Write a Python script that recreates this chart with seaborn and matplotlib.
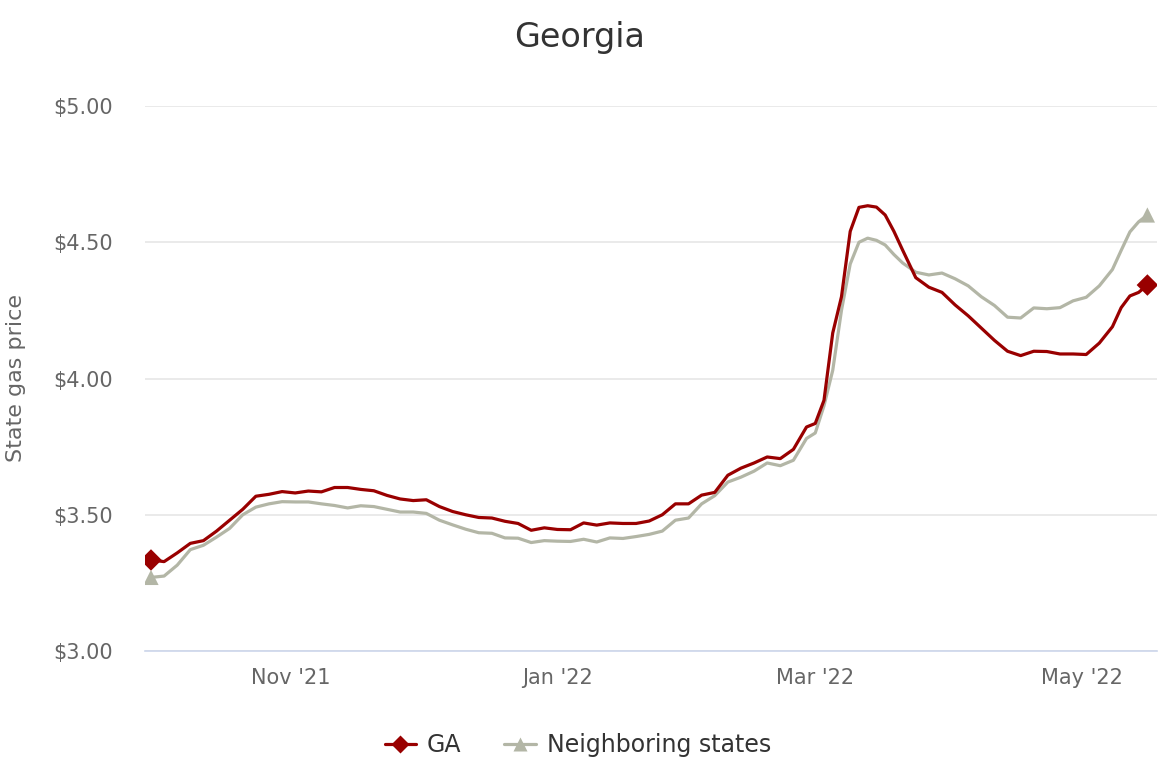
import matplotlib
matplotlib.use("Agg")
import matplotlib.pyplot as plt
import matplotlib.dates as mdates
from matplotlib.lines import Line2D
import seaborn as sns
import pandas as pd

dates = [
    "2021-09-30", "2021-10-03", "2021-10-06", "2021-10-09", "2021-10-12", "2021-10-15",
    "2021-10-18", "2021-10-21", "2021-10-24", "2021-10-27", "2021-10-30", "2021-11-02",
    "2021-11-05", "2021-11-08", "2021-11-11", "2021-11-14", "2021-11-17", "2021-11-20",
    "2021-11-23", "2021-11-26", "2021-11-29", "2021-12-02", "2021-12-05", "2021-12-08",
    "2021-12-11", "2021-12-14", "2021-12-17", "2021-12-20", "2021-12-23", "2021-12-26",
    "2021-12-29", "2022-01-01", "2022-01-04", "2022-01-07", "2022-01-10", "2022-01-13",
    "2022-01-16", "2022-01-19", "2022-01-22", "2022-01-25", "2022-01-28", "2022-01-31",
    "2022-02-03", "2022-02-06", "2022-02-09", "2022-02-12", "2022-02-15", "2022-02-18",
    "2022-02-21", "2022-02-24", "2022-02-27", "2022-03-01", "2022-03-03", "2022-03-05",
    "2022-03-07", "2022-03-09", "2022-03-11", "2022-03-13", "2022-03-15", "2022-03-17",
    "2022-03-19", "2022-03-21", "2022-03-24", "2022-03-27", "2022-03-30", "2022-04-02",
    "2022-04-05", "2022-04-08", "2022-04-11", "2022-04-14", "2022-04-17", "2022-04-20",
    "2022-04-23", "2022-04-26", "2022-04-29", "2022-05-02", "2022-05-05", "2022-05-08",
    "2022-05-10", "2022-05-12", "2022-05-14", "2022-05-16",
]

ga = [
    3.334, 3.328, 3.360, 3.395, 3.405, 3.440,
    3.480, 3.520, 3.568, 3.575, 3.585, 3.580,
    3.587, 3.584, 3.600, 3.600, 3.593, 3.588,
    3.571, 3.558, 3.552, 3.555, 3.530, 3.512,
    3.500, 3.490, 3.488, 3.476, 3.468, 3.443,
    3.452, 3.446, 3.445, 3.470, 3.462, 3.470,
    3.468, 3.468, 3.477, 3.500, 3.540, 3.540,
    3.572, 3.582, 3.645, 3.671, 3.690, 3.712,
    3.706, 3.740, 3.822, 3.835, 3.920, 4.167,
    4.300, 4.540, 4.628, 4.634, 4.629, 4.600,
    4.540, 4.471, 4.370, 4.335, 4.316, 4.270,
    4.230, 4.185, 4.140, 4.100, 4.084, 4.100,
    4.099, 4.090, 4.090, 4.088, 4.130, 4.190,
    4.260, 4.303, 4.316, 4.343,
]

neighbors = [
    3.270, 3.275, 3.315, 3.372, 3.388, 3.418,
    3.450, 3.500, 3.528, 3.540, 3.548, 3.547,
    3.547, 3.540, 3.534, 3.525, 3.533, 3.530,
    3.520, 3.510, 3.510, 3.505, 3.480, 3.463,
    3.447, 3.434, 3.432, 3.415, 3.414, 3.398,
    3.405, 3.403, 3.402, 3.410, 3.400, 3.415,
    3.413, 3.420, 3.428, 3.440, 3.480, 3.488,
    3.540, 3.570, 3.620, 3.638, 3.660, 3.690,
    3.680, 3.700, 3.780, 3.800, 3.900, 4.030,
    4.250, 4.420, 4.500, 4.515, 4.507, 4.490,
    4.455, 4.424, 4.390, 4.380, 4.387, 4.366,
    4.340, 4.300, 4.268, 4.225, 4.222, 4.259,
    4.256, 4.260, 4.285, 4.298, 4.340, 4.400,
    4.470, 4.538, 4.575, 4.600,
]

series_names = ["GA", "Neighboring states"]
y_ticks = [3.0, 3.5, 4.0, 4.5, 5.0]
x_tick_months = [11, 1, 3, 5]

RED = "#990000"
GRAY = "#b3b6a6"

df = pd.DataFrame({
    "date": pd.to_datetime(dates * 2),
    "price": ga + neighbors,
    "series": [series_names[0]] * len(ga) + [series_names[1]] * len(neighbors),
})

sns.set_theme(style="white")
plt.rcParams["font.family"] = ["DejaVu Sans"]

fig = plt.figure(figsize=(11.6, 7.73), dpi=100)
ax = fig.add_axes([145 / 1160, 1 - 651 / 773, (1157 - 145) / 1160, (651 - 106) / 773])

sns.lineplot(data=df, x="date", y="price", hue="series",
             palette={series_names[0]: RED, series_names[1]: GRAY},
             hue_order=[series_names[1], series_names[0]],
             linewidth=2.3, legend=False, ax=ax, zorder=3,
             solid_joinstyle="round", solid_capstyle="round")

ends = df.groupby("series").apply(lambda g: g.iloc[[0, -1]]).reset_index(drop=True)
sns.scatterplot(data=ends, x="date", y="price", hue="series", style="series",
                palette={series_names[0]: RED, series_names[1]: GRAY},
                markers={series_names[0]: "D", series_names[1]: "^"},
                s=120, edgecolor="none", legend=False, ax=ax, zorder=4)

start = pd.Timestamp("2021-09-30")
ax.set_xlim(start - pd.Timedelta(days=1.37), start + pd.Timedelta(days=230.2))
ax.set_ylim(3.0, 5.0)
ax.set_yticks(y_ticks)
ax.set_yticklabels([f"${v:.2f}" for v in y_ticks])
ax.xaxis.set_major_locator(mdates.MonthLocator(bymonth=x_tick_months))
ax.xaxis.set_major_formatter(mdates.DateFormatter("%b '%y"))

ax.grid(axis="y", color="#e6e6e6", linewidth=1.2)
ax.grid(axis="x", visible=False)
for s in ["top", "right", "left"]:
    ax.spines[s].set_visible(False)
ax.spines["bottom"].set_color("#ccd6eb")
ax.spines["bottom"].set_linewidth(1.2)
ax.set_axisbelow(True)

ax.tick_params(axis="x", colors="#ccd6eb", length=7.5, width=1, direction="out",
               labelcolor="#666666", labelsize=15, pad=5)
ax.tick_params(axis="y", length=0, labelcolor="#666666", labelsize=15, pad=23)

ax.set_xlabel("")
ax.set_ylabel("State gas price", fontsize=16, color="#666666")
ax.yaxis.set_label_coords(-0.118, 0.5)

fig.text(0.5, 1 - 37 / 773, "Georgia", ha="center", va="center",
         fontsize=24, color="#333333")

handles = [
    Line2D([0], [0], color=RED, lw=2.3, marker="D", markersize=9, markeredgecolor="none"),
    Line2D([0], [0], color=GRAY, lw=2.3, marker="^", markersize=10, markeredgecolor="none"),
]
fig.legend(handles, series_names, loc="center", bbox_to_anchor=(0.498, 1 - 745 / 773),
           ncol=2, frameon=False, fontsize=17, handlelength=1.35, handletextpad=0.45,
           columnspacing=1.8, labelcolor="#333333")

fig.savefig("out.png", dpi=100, facecolor="white")
